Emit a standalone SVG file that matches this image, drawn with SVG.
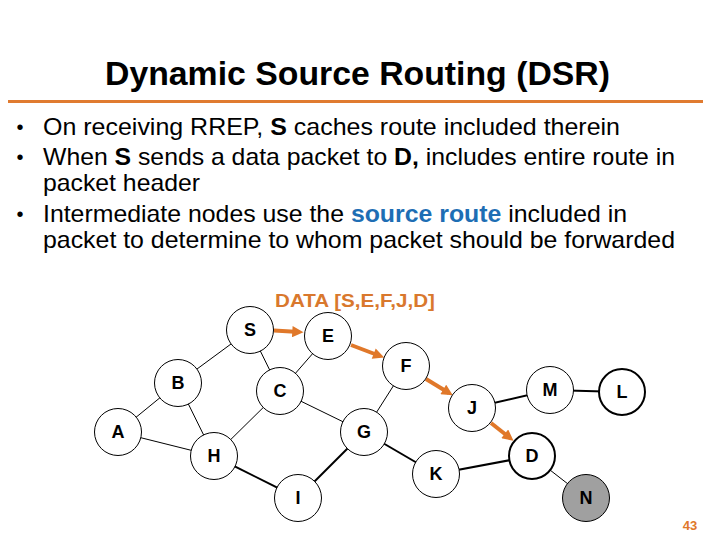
<svg xmlns="http://www.w3.org/2000/svg" width="720" height="540" viewBox="0 0 720 540">
<style>
.t{font-family:"Liberation Sans",Arial,sans-serif;fill:#000}
.title{font-size:33px;font-weight:bold}
.body{font-size:24px}
.b{font-weight:bold}
.blue{font-weight:bold;fill:#1e6eb4}
.node circle{fill:#fff;stroke:#000;stroke-width:1}
.node.thick circle{stroke-width:2}
.node text{font-family:"Liberation Sans",Arial,sans-serif;font-size:18px;font-weight:bold;text-anchor:middle;fill:#000}
.thin{stroke:#000;stroke-width:1}
.thk{stroke:#000;stroke-width:2}
.arr{stroke:#e0782a;stroke-width:4;marker-end:url(#ah)}
</style>
<defs>
<marker id="ah" viewBox="0 0 10 10" refX="6" refY="5" markerWidth="3" markerHeight="2.8" markerUnits="strokeWidth" orient="auto">
<path d="M0,0 L10,5 L0,10 z" fill="#e0782a"/>
</marker>
</defs>
<rect width="720" height="540" fill="#fff"/>
<text class="t title" x="357.5" y="85" text-anchor="middle" textLength="505" lengthAdjust="spacingAndGlyphs">Dynamic Source Routing (DSR)</text>
<line x1="8" y1="101.5" x2="703" y2="101.5" stroke="#e07b30" stroke-width="3"/>
<g class="t body">
<text x="20" y="134" font-size="20" text-anchor="middle">•</text>
<text x="43" y="135" textLength="577" lengthAdjust="spacingAndGlyphs">On receiving RREP, <tspan class="b">S</tspan> caches route included therein</text>
<text x="20" y="164" font-size="20" text-anchor="middle">•</text>
<text x="43" y="165" textLength="632" lengthAdjust="spacingAndGlyphs">When <tspan class="b">S</tspan> sends a data packet to <tspan class="b">D,</tspan> includes entire route in</text>
<text x="43" y="191" textLength="157" lengthAdjust="spacingAndGlyphs">packet header</text>
<text x="20" y="221" font-size="20" text-anchor="middle">•</text>
<text x="43" y="222" textLength="584" lengthAdjust="spacingAndGlyphs">Intermediate nodes use the <tspan class="blue">source route</tspan> included in</text>
<text x="43" y="248" textLength="632" lengthAdjust="spacingAndGlyphs">packet to determine to whom packet should be forwarded</text>
</g>
<text x="275" y="307" font-family="'Liberation Sans',Arial,sans-serif" font-size="19" font-weight="bold" fill="#d9782d" textLength="160" lengthAdjust="spacingAndGlyphs">DATA [S,E,F,J,D]</text>
<g id="connectors">
<line class="thin" x1="250" y1="330" x2="178" y2="383"/>
<line class="thin" x1="250" y1="330" x2="280" y2="391"/>
<line class="thin" x1="328" y1="336" x2="280" y2="391"/>
<line class="thin" x1="178" y1="383" x2="118" y2="432"/>
<line class="thin" x1="178" y1="383" x2="214" y2="456"/>
<line class="thin" x1="118" y1="432" x2="214" y2="456"/>
<line class="thin" x1="280" y1="391" x2="214" y2="456"/>
<line class="thin" x1="280" y1="391" x2="364" y2="432"/>
<line class="thin" x1="406" y1="366" x2="364" y2="432"/>
<line class="thin" x1="532" y1="456" x2="586" y2="498"/>
<line class="thk" x1="214" y1="456" x2="298" y2="498"/>
<line class="thk" x1="298" y1="498" x2="364" y2="432"/>
<line class="thk" x1="364" y1="432" x2="436" y2="474"/>
<line class="thk" x1="436" y1="474" x2="532" y2="456"/>
<line class="thk" x1="472" y1="408" x2="550" y2="390"/>
<line class="thk" x1="550" y1="390" x2="622" y2="392"/>
<line class="arr" x1="274" y1="330.5" x2="299" y2="332"/>
<line class="arr" x1="351" y1="345" x2="380" y2="356"/>
<line class="arr" x1="426" y1="379" x2="449" y2="393"/>
<line class="arr" x1="491" y1="423" x2="510" y2="438"/>
</g>
<g id="S" class="node"><circle cx="250" cy="330" r="23.5"/><text x="250" y="336">S</text></g>
<g id="E" class="node"><circle cx="328" cy="336" r="23.5"/><text x="328" y="342">E</text></g>
<g id="F" class="node"><circle cx="406" cy="366" r="23.5"/><text x="406" y="372">F</text></g>
<g id="B" class="node"><circle cx="178" cy="383" r="23.5"/><text x="178" y="389">B</text></g>
<g id="C" class="node"><circle cx="280" cy="391" r="23.5"/><text x="280" y="397">C</text></g>
<g id="J" class="node"><circle cx="472" cy="408" r="23.5"/><text x="472" y="414">J</text></g>
<g id="M" class="node"><circle cx="550" cy="390" r="23.5"/><text x="550" y="396">M</text></g>
<g id="L" class="node thick"><circle cx="622" cy="392" r="23"/><text x="622" y="398">L</text></g>
<g id="A" class="node"><circle cx="118" cy="432" r="23.5"/><text x="118" y="438">A</text></g>
<g id="G" class="node"><circle cx="364" cy="432" r="23.5"/><text x="364" y="438">G</text></g>
<g id="H" class="node"><circle cx="214" cy="456" r="23.5"/><text x="214" y="462">H</text></g>
<g id="D" class="node thick"><circle cx="532" cy="456" r="23"/><text x="532" y="462">D</text></g>
<g id="K" class="node"><circle cx="436" cy="474" r="23.5"/><text x="436" y="480">K</text></g>
<g id="I" class="node"><circle cx="298" cy="498" r="23.5"/><text x="298" y="504">I</text></g>
<g id="N" class="node"><circle cx="586" cy="498" r="23.5" style="fill:#a0a0a0"/><text x="586" y="504">N</text></g>
<text x="690" y="530" font-family="'Liberation Sans',Arial,sans-serif" font-size="13" font-weight="bold" fill="#e0782a" text-anchor="middle">43</text>
</svg>
